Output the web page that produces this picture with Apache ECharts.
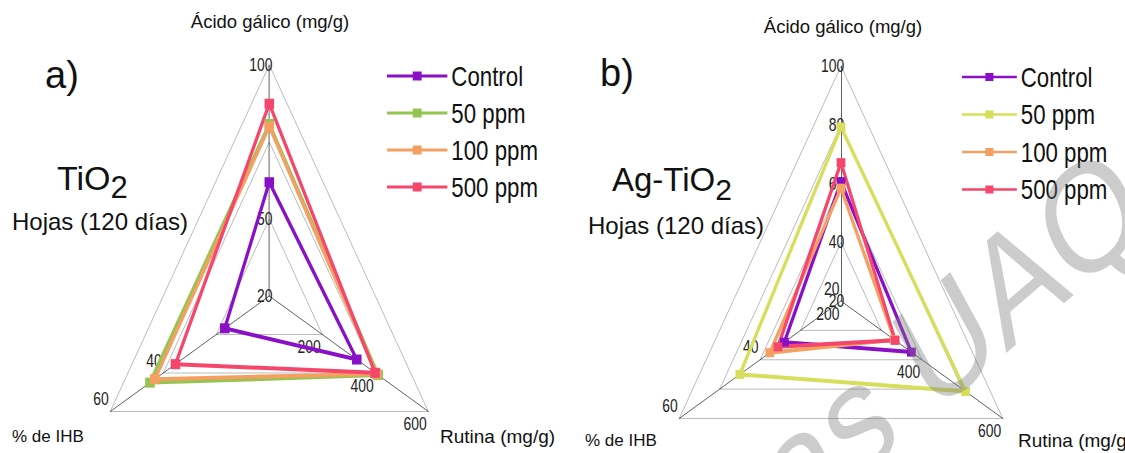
<!DOCTYPE html>
<html><head><meta charset="utf-8">
<script src="https://cdn.jsdelivr.net/npm/echarts@6/dist/echarts.min.js"></script>
<style>
html,body{margin:0;padding:0;background:#fff;overflow:hidden;width:1125px;height:453px}
#wrap{width:1125px;height:453px;overflow:hidden;position:relative}
#chart{width:1415px;height:453px;transform:scaleX(0.795);transform-origin:0 0;position:absolute;left:0;top:0}
</style></head><body><div id="wrap"><div id="chart"></div></div>
<script>
const SX = 0.795;
// axes (ECharts radar goes counter-clockwise from top): top, bottom-left, bottom-right
const indicatorNames = ['Ácido gálico (mg/g)', '% de IHB', 'Rutina (mg/g)'];
const groups = ['Control', '50 ppm', '100 ppm', '500 ppm'];
// values ordered [Ácido gálico, % de IHB, Rutina]
const tio2Control = [59.4, 16.8, 330];
const tio2P50     = [79.6, 45.0, 411];
const tio2P100    = [78.7, 43.2, 405];
const tio2P500    = [86.6, 35.4, 399];
const agControl   = [60.6, 34.0, 374];
const agP50       = [79.2, 45.0, 508];
const agP100      = [58.4, 37.6, 332];
const agP500      = [67.1, 35.6, 334];
const tio2Min = [20, 0, 0];
const tio2Max = [100, 60, 600];
const agMin = [20, 20, 200];
const agMax = [100, 60, 600];
const tio2TickLabels = [['20', '50', '', '100'], ['', '', '40', '60'], ['', '200', '400', '600']];
const agTickLabels = [['20', '40', '60', '80', '100'], ['20', '', '40', '', '60'], ['200', '', '400', '', '600']];

const colorsA = ['#8a10c8', '#94c552', '#f5a063', '#f5476c'];
const colorsB = ['#8a10c8', '#d6de5c', '#f5a063', '#f5476c'];
const FONT = '"Liberation Sans", Arial, sans-serif';
// label placement per axis (other side of each axis than the default)
const labelSide = [
  { align: 'right', verticalAlign: 'middle', margin: -4 },
  { align: 'right', verticalAlign: 'bottom', margin: -4 },
  { align: 'right', verticalAlign: 'top', margin: -4 }
];

function makeRadar(center, radius, mins, maxs, labels, split) {
  return {
    center: center, radius: radius, startAngle: 90, shape: 'polygon', splitNumber: split,
    axisName: { show: false },
    indicator: indicatorNames.map((n, i) => ({
      name: n, min: mins[i], max: maxs[i],
      axisLabel: Object.assign({
        show: true, fontSize: 17.5, color: '#222', fontFamily: FONT,
        formatter: (v) => {
          const k = Math.round((v - mins[i]) / (maxs[i] - mins[i]) * split);
          return labels[i][k] || '';
        }
      }, labelSide[i])
    })),
    splitLine: { lineStyle: { color: '#a0a0a0', width: 0.8 } },
    splitArea: { show: false },
    axisLine: { lineStyle: { color: '#222', width: 0.8 } },
    axisTick: { show: false },
    axisLabel: { show: true, color: '#222', fontSize: 17.5, fontFamily: FONT, showMinLabel: true, showMaxLabel: true, hideOverlap: false }
  };
}

const ICON = 'path://M0,4.6H76V7.4H0Z M32.4,1.5H43.6V10.5H32.4Z';

function makeLegend(left, top, colors, w, gap) {
  return {
    orient: 'vertical', left: left, top: top, itemWidth: w, itemHeight: 12, itemGap: gap,
    selectedMode: false,
    textStyle: { fontSize: 28, color: '#111', fontFamily: FONT },
    data: groups.map((g, i) => ({ name: g, icon: ICON, itemStyle: { color: colors[i] } }))
  };
}

function makeSeries(radarIndex, rows, colors, lw, sym) {
  return {
    type: 'radar', radarIndex: radarIndex, symbol: 'rect', symbolSize: sym, z: 3,
    data: rows.map((r, i) => ({
      name: groups[i], value: r,
      itemStyle: { color: colors[i] },
      lineStyle: { color: colors[i], width: lw }
    }))
  };
}

function txt(x, y, text, size, align, extra) {
  return Object.assign({
    type: 'text', x: x / SX, y: y, scaleX: 1 / SX, z: 100,
    style: { text: text, fontSize: size, fontFamily: FONT, fill: '#111', align: align || 'left', verticalAlign: 'middle' }
  }, extra || {});
}
function sub(x, y, main, size) {
  return {
    type: 'text', x: x / SX, y: y, scaleX: 1 / SX, z: 100,
    style: { text: '{m|' + main + '}{s|2}', fontFamily: FONT, fill: '#111', align: 'left', verticalAlign: 'middle',
      rich: { m: { fontSize: size, fontFamily: FONT, verticalAlign: 'top', fill: '#111' },
              s: { fontSize: size - 3, fontFamily: FONT, verticalAlign: 'top', padding: [11, 0, 0, 0], fill: '#111' } } }
  };
}

const chart = echarts.init(document.getElementById('chart'), null, { renderer: 'svg' });
chart.setOption({
  backgroundColor: '#fff',
  animation: false,
  radar: [
    makeRadar([269.3 / SX, 296], 231, tio2Min, tio2Max, tio2TickLabels, 3),
    makeRadar([841 / SX, 301], 235, agMin, agMax, agTickLabels, 4)
  ],
  legend: [
    makeLegend(383 / SX, 57, colorsA, 76, 9),
    makeLegend(958 / SX, 58, colorsB, 69, 9.5)
  ],
  series: [
    makeSeries(0, [tio2Control, tio2P50, tio2P100, tio2P500], colorsA, 4, [12, 10]),
    makeSeries(1, [agControl, agP50, agP100, agP500], colorsB, 4, [11, 9])
  ],
  graphic: [
    { type: 'text', x: 972, y: 489, rotation: 0.6, z: 200, silent: true,
      style: { text: 'as UAQ', fontSize: 155, fontFamily: FONT, fill: 'rgba(120,120,120,0.38)', align: 'left', verticalAlign: 'middle' } },
    txt(270, 22, 'Ácido gálico (mg/g)', 18.5, 'center'),
    txt(12, 437, '% de IHB', 17, 'left'),
    txt(440, 437, 'Rutina (mg/g)', 19, 'left'),
    txt(843, 27, 'Ácido gálico (mg/g)', 18.5, 'center'),
    txt(585, 441, '% de IHB', 17, 'left'),
    txt(1018, 441, 'Rutina (mg/g)', 19, 'left'),
    txt(45, 75, 'a)', 38, 'left'),
    txt(600, 73, 'b)', 38, 'left'),
    sub(57, 182, 'TiO', 34),
    txt(12, 222, 'Hojas (120 días)', 24, 'left'),
    sub(612, 184, 'Ag-TiO', 33),
    txt(588, 226, 'Hojas (120 días)', 24, 'left')
  ]
});
</script></body></html>
